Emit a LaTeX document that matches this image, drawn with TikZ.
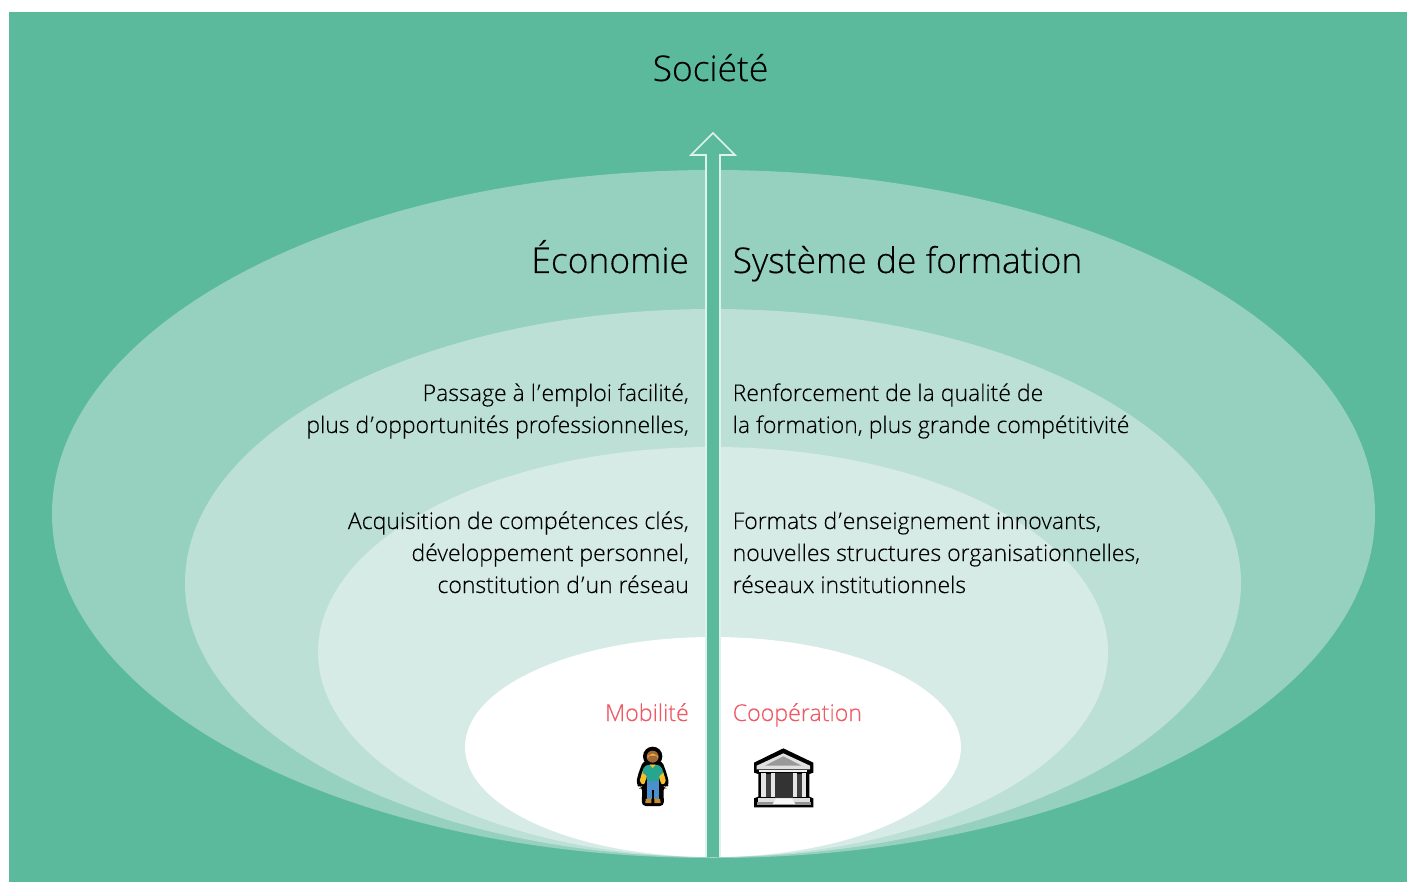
\documentclass[tikz,border=0pt]{standalone}
\usepackage{fontspec}
\setmainfont{Open Sans}[UprightFont=* Light,FakeBold=0.25]
\definecolor{bgg}{HTML}{5CBA9C}
\definecolor{ring1}{HTML}{96D0BE}
\definecolor{ring2}{HTML}{BCE0D6}
\definecolor{ring3}{HTML}{D6EBE6}
\definecolor{redt}{HTML}{EE5A64}
\definecolor{skin}{HTML}{F9BE2E}
\definecolor{hair}{HTML}{A0673A}
\definecolor{shirt}{HTML}{26A68E}
\definecolor{jeans}{HTML}{4A90CF}
\definecolor{shoe}{HTML}{C98A2B}
\newcommand{\apo}{\kern1.2pt’\kern1pt}
\tikzset{
  big/.style={font=\fontsize{35.4}{40}\selectfont,inner sep=0pt,text=black},
  body/.style={font=\fontsize{23}{32}\selectfont,inner sep=0pt,text=black},
  lt/.style={body,anchor=base west,align=left},
  rt/.style={body,anchor=base east,align=right},
  red/.style={font=\fontsize{23.2}{32}\selectfont,inner sep=0pt,text=redt},
  icon/.style={shift={(600,690)},x=0.33333pt,y=-0.33333pt},
}
\begin{document}
\begin{tikzpicture}[x=1pt,y=-1pt]
\useasboundingbox (0,0) rectangle (1407,882);
\fill[white] (0,0) rectangle (1407,882);
\fill[bgg] (9,12) rectangle (1407,882);
\fill[ring1] (713.5,514) ellipse [x radius=661.5,y radius=344];
\fill[ring2] (713,583) ellipse [x radius=528,y radius=274];
\fill[ring3] (713,652) ellipse [x radius=395,y radius=205];
\fill[white] (713,747) ellipse [x radius=248,y radius=110];
\draw[white!80!bgg,line width=1.6pt,fill=bgg,line join=miter] (706,857) -- (706,155) -- (691,155) -- (713,133) -- (735,155) -- (720,155) -- (720,857);
\fill[bgg] (707,855) rectangle (719,857);
\node[big,anchor=base] (soc) at (710.5,81) {Société};
\node[big,anchor=base east] (eco) at (689,273) {Économie};
\node[big,anchor=base west] (sys) at (732.5,273) {Système de formation};
\node[rt] (a) at (689,401) {Passage à l\apo emploi facilité,};
\node[rt] (a2) at (689,433) {plus d\apo opportunités professionnelles,};
\node[lt] (b) at (732.5,401) {Renforcement de la qualité de};
\node[lt] (b2) at (732.5,433) {la formation, plus grande compétitivité};
\node[rt] (c) at (689,529) {Acquisition de compétences clés,};
\node[rt] (c2) at (689,561) {développement personnel,};
\node[rt] (c3) at (689,593) {constitution d\apo un réseau};
\node[lt] (d) at (732.5,529) {Formats d\apo enseignement innovants,};
\node[lt] (d2) at (732.5,561) {nouvelles structures organisationnelles,};
\node[lt] (d3) at (732.5,593) {réseaux institutionnels};
\node[red,anchor=base east] (m) at (689,721) {Mobilité};
\node[red,anchor=base west] (k) at (732.5,721) {Coopération};
% person
\begin{scope}[icon]
\fill[black] (158,199) circle (29);
\fill[black,rounded corners=4pt] (130,212) -- (115,250) -- (108,282) -- (120,294) -- (127,290) -- (125,348) -- (192,348) -- (190,290) -- (198,294) -- (208,282) -- (200,250) -- (186,212) -- cycle;
\fill[hair] (158,200) circle (18);
\fill[skin] (143,197) -- (173,197) -- (173,206) arc (0:-180:15) -- cycle;
\fill[skin,rounded corners=2pt] (128,240) -- (118,277) -- (132,285) -- (144,250) -- cycle;
\fill[skin,rounded corners=2pt] (188,240) -- (199,277) -- (185,285) -- (173,250) -- cycle;
\fill[shirt,rounded corners=2pt] (126,251) -- (132,229) -- (146,224) -- (170,224) -- (184,229) -- (191,251) -- (178,253) -- (178,274) -- (140,274) -- (140,253) -- cycle;
\fill[skin] (149,224) -- (167,224) -- (158,234) -- cycle;
\fill[jeans] (140,274) rectangle (177,326);
\fill[black] (155,300) rectangle (162,348);
\fill[shoe] (137,327) -- (154,325) -- (154,339) -- (136,339) -- cycle;
\fill[shoe] (163,325) -- (180,327) -- (182,339) -- (163,339) -- cycle;
\end{scope}
% building
\begin{scope}[icon]
\fill[black] (550,175) -- (640,218) -- (640,248) -- (628,252) -- (628,320) -- (640,325) -- (640,352) -- (462,352) -- (462,325) -- (475,320) -- (475,252) -- (462,248) -- (462,218) -- cycle;
\fill[black!12] (550,190) -- (630,227) -- (630,238) -- (470,238) -- (470,227) -- cycle;
\fill[black!40] (550,199) -- (605,227) -- (495,227) -- cycle;
\fill[black!5] (478,240) rectangle (622,247);
\fill[black!10] (483,250) rectangle (498,322);
\fill[black!75] (498,252) rectangle (513,322);
\fill[black!10] (513,250) rectangle (526,322);
\fill[black!80] (526,250) rectangle (578,326);
\fill[black!10] (578,250) rectangle (590,322);
\fill[black!75] (590,252) rectangle (605,322);
\fill[black!10] (605,250) rectangle (619,322);
\fill[black!12] (473,325) rectangle (629,336);
\fill[black!42] (470,336) rectangle (632,344);
\fill[black!3] (528,326) -- (576,326) -- (586,342) -- (518,342) -- cycle;
\end{scope}
\end{tikzpicture}
\end{document}
